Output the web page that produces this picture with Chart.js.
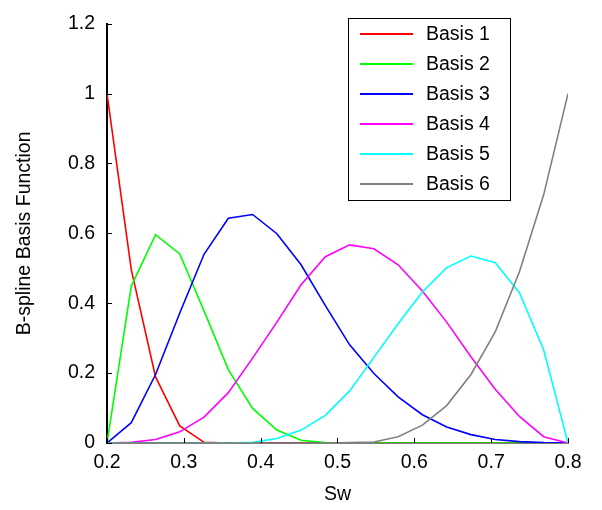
<!DOCTYPE html>
<html>
<head>
<meta charset="utf-8">
<script src="https://cdn.jsdelivr.net/npm/chart.js@4.4.1/dist/chart.umd.min.js"></script>
<style>
  html, body { margin: 0; padding: 0; background: #fff; }
  canvas { display: block; }
</style>
</head>
<body>
<canvas id="basisChart" width="602" height="510"></canvas>
<script>
// Sw sample points
const xs = [0.2, 0.2316, 0.2632, 0.2947, 0.3263, 0.3579, 0.3895, 0.4211, 0.4526, 0.4842,
            0.5158, 0.5474, 0.5789, 0.6105, 0.6421, 0.6737, 0.7053, 0.7368, 0.7684, 0.8];

const labels = ['Basis 1', 'Basis 2', 'Basis 3', 'Basis 4', 'Basis 5', 'Basis 6'];
const colors = ['#ff0000', '#00ff00', '#0000ff', '#ff00ff', '#00ffff', '#808080'];

const basis1 = [1.0, 0.496, 0.189, 0.049, 0.002, 0, 0, 0, 0, 0, 0, 0, 0, 0, 0, 0, 0, 0, 0, 0];
const basis2 = [0, 0.449, 0.596, 0.541, 0.378, 0.210, 0.099, 0.037, 0.008, 0.001, 0, 0, 0, 0, 0, 0, 0, 0, 0, 0];
const basis3 = [0, 0.058, 0.196, 0.372, 0.540, 0.643, 0.654, 0.599, 0.510, 0.393, 0.281, 0.199, 0.132, 0.081, 0.046, 0.024, 0.010, 0.004, 0.001, 0];
const basis4 = [0, 0.002, 0.010, 0.032, 0.074, 0.144, 0.243, 0.346, 0.453, 0.533, 0.567, 0.556, 0.510, 0.435, 0.346, 0.247, 0.154, 0.076, 0.018, 0];
const basis5 = [0, 0, 0, 0, 0, 0, 0.002, 0.013, 0.037, 0.079, 0.149, 0.245, 0.341, 0.432, 0.502, 0.535, 0.516, 0.430, 0.266, 0];
const basis6 = [0, 0, 0, 0, 0, 0, 0, 0, 0, 0, 0.001, 0.003, 0.018, 0.051, 0.107, 0.196, 0.318, 0.490, 0.711, 1.0];

const series = [basis1, basis2, basis3, basis4, basis5, basis6];

const xTicks = [0.2, 0.3, 0.4, 0.5, 0.6, 0.7, 0.8];
const yTicks = [0, 0.2, 0.4, 0.6, 0.8, 1, 1.2];

const FONT = '"Liberation Sans", Arial, sans-serif';
const FSIZE = 19.5;

// inward tick marks + boxed legend inside the plot
const framePlugin = {
    id: 'framePlugin',
    afterDraw(chart) {
        const { ctx, chartArea: a, scales: { x, y } } = chart;
        ctx.save();
        ctx.strokeStyle = '#000';
        ctx.lineWidth = 1;
        ctx.beginPath();
        yTicks.forEach(v => {
            const py = Math.round(y.getPixelForValue(v)) + 0.5;
            ctx.moveTo(a.left, py);
            ctx.lineTo(a.left + 5, py);
        });
        xTicks.forEach(v => {
            const px = Math.round(x.getPixelForValue(v)) + 0.5;
            ctx.moveTo(px, a.bottom);
            ctx.lineTo(px, a.bottom - 5);
        });
        ctx.stroke();

        // legend
        const bx = 348.5, by = 18.5, bw = 162, bh = 182;
        ctx.fillStyle = '#fff';
        ctx.fillRect(bx, by, bw, bh);
        ctx.strokeStyle = '#000';
        ctx.lineWidth = 1;
        ctx.strokeRect(bx, by, bw, bh);
        ctx.font = FSIZE + 'px ' + FONT;
        ctx.textBaseline = 'middle';
        ctx.textAlign = 'left';
        labels.forEach((lab, i) => {
            const ry = 34 + i * 30;
            ctx.strokeStyle = colors[i];
            ctx.lineWidth = 2;
            ctx.beginPath();
            ctx.moveTo(360, ry);
            ctx.lineTo(413, ry);
            ctx.stroke();
            ctx.fillStyle = '#000';
            ctx.fillText(lab, 426, ry + 1);
        });
        ctx.restore();
    }
};

const ctx = document.getElementById('basisChart').getContext('2d');
const basisChart = new Chart(ctx, {
    type: 'line',
    data: {
        datasets: series.map((vals, i) => ({
            label: labels[i],
            data: vals.map((v, k) => ({ x: xs[k], y: v })),
            borderColor: colors[i],
            borderWidth: 1.6,
            pointRadius: 0,
            tension: 0,
            fill: false,
            order: series.length - 1 - i
        }))
    },
    options: {
        responsive: false,
        animation: false,
        layout: { padding: { left: 0, right: 34, top: 16, bottom: 0 } },
        plugins: {
            legend: { display: false },
            tooltip: { enabled: false }
        },
        scales: {
            x: {
                type: 'linear',
                min: 0.2,
                max: 0.8,
                afterFit: s => { s.height = 67; },
                afterBuildTicks: s => { s.ticks = xTicks.map(v => ({ value: v })); },
                ticks: {
                    color: '#000',
                    font: { family: FONT, size: FSIZE },
                    padding: 8,
                    maxRotation: 0,
                    callback: v => v.toFixed(1)
                },
                grid: { drawOnChartArea: false, drawTicks: false },
                border: { display: true, color: '#000', width: 1.5 },
                title: {
                    display: true,
                    text: 'Sw',
                    color: '#000',
                    font: { family: FONT, size: FSIZE },
                    padding: { top: 0, bottom: 4 }
                }
            },
            y: {
                type: 'linear',
                min: 0,
                max: 1.2,
                afterFit: s => { s.width = 107; },
                afterBuildTicks: s => { s.ticks = yTicks.map(v => ({ value: v })); },
                ticks: {
                    color: '#000',
                    font: { family: FONT, size: FSIZE },
                    padding: 12,
                    callback: v => String(parseFloat(v.toFixed(1)))
                },
                grid: { drawOnChartArea: false, drawTicks: false },
                border: { display: true, color: '#000', width: 2 },
                title: {
                    display: true,
                    text: 'B-spline Basis Function',
                    color: '#000',
                    font: { family: FONT, size: FSIZE },
                    padding: { top: 13, bottom: 0 }
                }
            }
        }
    },
    plugins: [framePlugin]
});
</script>
</body>
</html>
